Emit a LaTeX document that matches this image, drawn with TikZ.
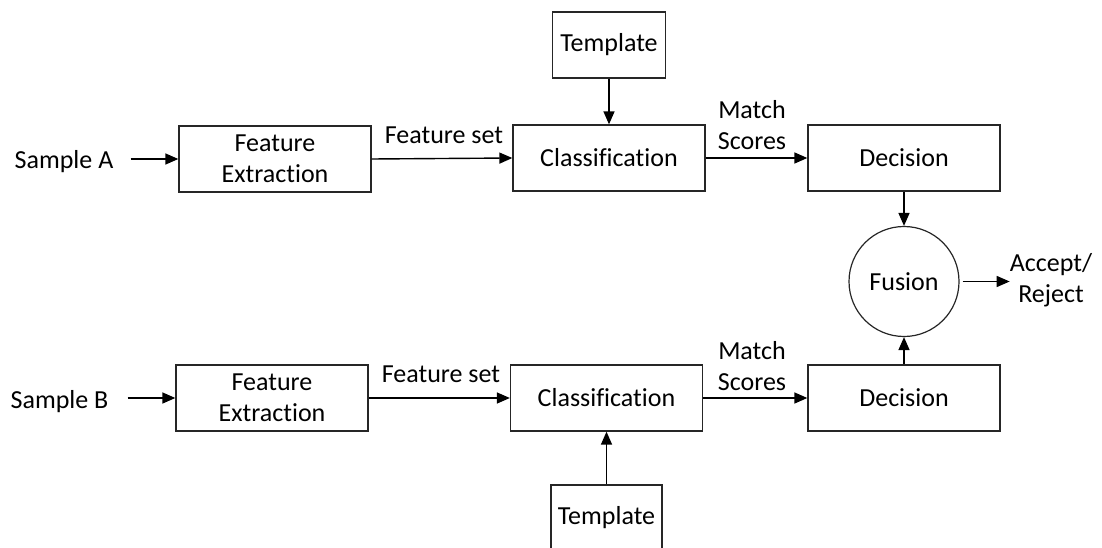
\documentclass[tikz,border=0pt]{standalone}
\usepackage{fontspec}
\setmainfont{Carlito}[Ligatures={NoCommon}]
\usetikzlibrary{arrows.meta}
\begin{document}
\begin{tikzpicture}[x=1pt,y=-1pt,
  every node/.style={font=\fontsize{26}{31}\selectfont, align=center, inner sep=0pt},
  blk/.style={draw=black!85, line width=1.3pt, rectangle, minimum width=192pt, minimum height=66pt},
  tpl/.style={blk, minimum width=113pt},
  fus/.style={draw=black!85, line width=1.2pt, circle, minimum size=110pt},
  arr/.style={line width=1.4pt, -{Triangle[length=13pt,width=11pt]}},
  lbl/.style={anchor=base}]
\useasboundingbox (0,0) rectangle (1102,548);
\clip (0,0) rectangle (1102,548);

% upper chain (sample A)
\node[blk] (feA) at (275,159) {Feature\\Extraction};
\node[blk] (clA) at (609,158) {Classification};
\node[tpl] (tpA) at (609,45) {Template};
\node[blk] (deA) at (904,158) {Decision};

% fusion stage
\node[fus] (fu) at (904,281.5) {Fusion};
\node (acc) at (1051,280) {Accept/\\Reject};

% lower chain (sample B)
\node[blk] (feB) at (272,398) {Feature\\Extraction};
\node[blk] (clB) at (606.5,398) {Classification};
\node[tpl, minimum width=111pt] (tpB) at (606.5,518) {Template};
\node[blk] (deB) at (904,398) {Decision};

% inputs and connector labels
\node[lbl] (sA) at (64,169) {Sample A};
\node[lbl] (sB) at (59.5,408) {Sample B};
\node[lbl] (fsA) at (444,144) {Feature set};
\node[lbl] (fsB) at (441,382) {Feature set};
\node (msA) at (752,125) {Match\\Scores};
\node (msB) at (752,366) {Match\\Scores};

% connectors
\draw[arr] ([xshift=17pt]sA.east |- feA.west) -- (feA.west);
\draw[arr] (feA.east) -- (clA.west);
\draw[arr] (tpA) -- (clA);
\draw[arr] (clA) -- (deA);
\draw[arr] (deA) -- (fu);
\draw[arr] ([xshift=19pt]sB.east |- feB.west) -- (feB.west);
\draw[arr] (feB) -- (clB);
\draw[arr] (tpB) -- (clB);
\draw[arr] (clB) -- (deB);
\draw[arr] (deB) -- (fu);
\draw[arr, shorten <=3pt] (fu.east) -- (acc.west |- fu.east);
\end{tikzpicture}
\end{document}
